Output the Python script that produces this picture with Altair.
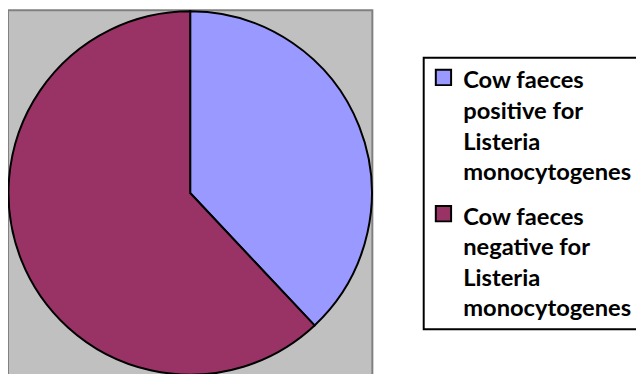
import altair as alt
import pandas as pd

categories = [
    "Cow faeces\npositive for\nListeria\nmonocytogenes",
    "Cow faeces\nnegative for\nListeria\nmonocytogenes",
]
values = [38, 62]
order = [0, 1]
colors = ["#9999FF", "#993366"]

df = pd.DataFrame({"category": categories, "value": values, "order": order})

W, H = 369, 370

plot_area = (
    alt.Chart(pd.DataFrame({"k": [0]}))
    .mark_rect(fill="#C0C0C0", stroke="#808080", strokeWidth=2)
    .encode(
        x=alt.value(0), x2=alt.value(W),
        y=alt.value(0), y2=alt.value(H),
    )
)

pie = (
    alt.Chart(df)
    .mark_arc(stroke="black", strokeWidth=2, outerRadius=184)
    .encode(
        theta=alt.Theta("value:Q", stack=True),
        order=alt.Order("order:Q"),
        color=alt.Color(
            "category:N",
            scale=alt.Scale(domain=categories, range=colors),
            legend=alt.Legend(
                title=None,
                orient="none",
                legendX=421,
                legendY=48,
                strokeColor="black",
                fillColor="white",
                padding=8,
                symbolType="square",
                symbolSize=240,
                symbolStrokeColor="black",
                symbolStrokeWidth=2,
                symbolOpacity=1,
                labelFont="Lato",
                labelFontSize=24,
                labelFontWeight="bold",
                labelColor="black",
                labelOffset=8,
                labelLimit=400,
                labelBaseline="top",
                rowPadding=17,
            ),
        ),
    )
)

chart = (
    alt.layer(plot_area, pie)
    .properties(
        width=W,
        height=H,
        padding={"left": 0, "top": 0, "right": 267, "bottom": 0},
        autosize=alt.AutoSizeParams(type="none"),
    )
    .configure(
        lineBreak="\n",
        style={"guide-label": {"lineHeight": 31, "dy": -8}},
    )
    .configure_view(stroke=None)
    .configure_legend(strokeWidth=2)
)

chart.save("out.html", embed_options={"renderer": "svg", "actions": False})
